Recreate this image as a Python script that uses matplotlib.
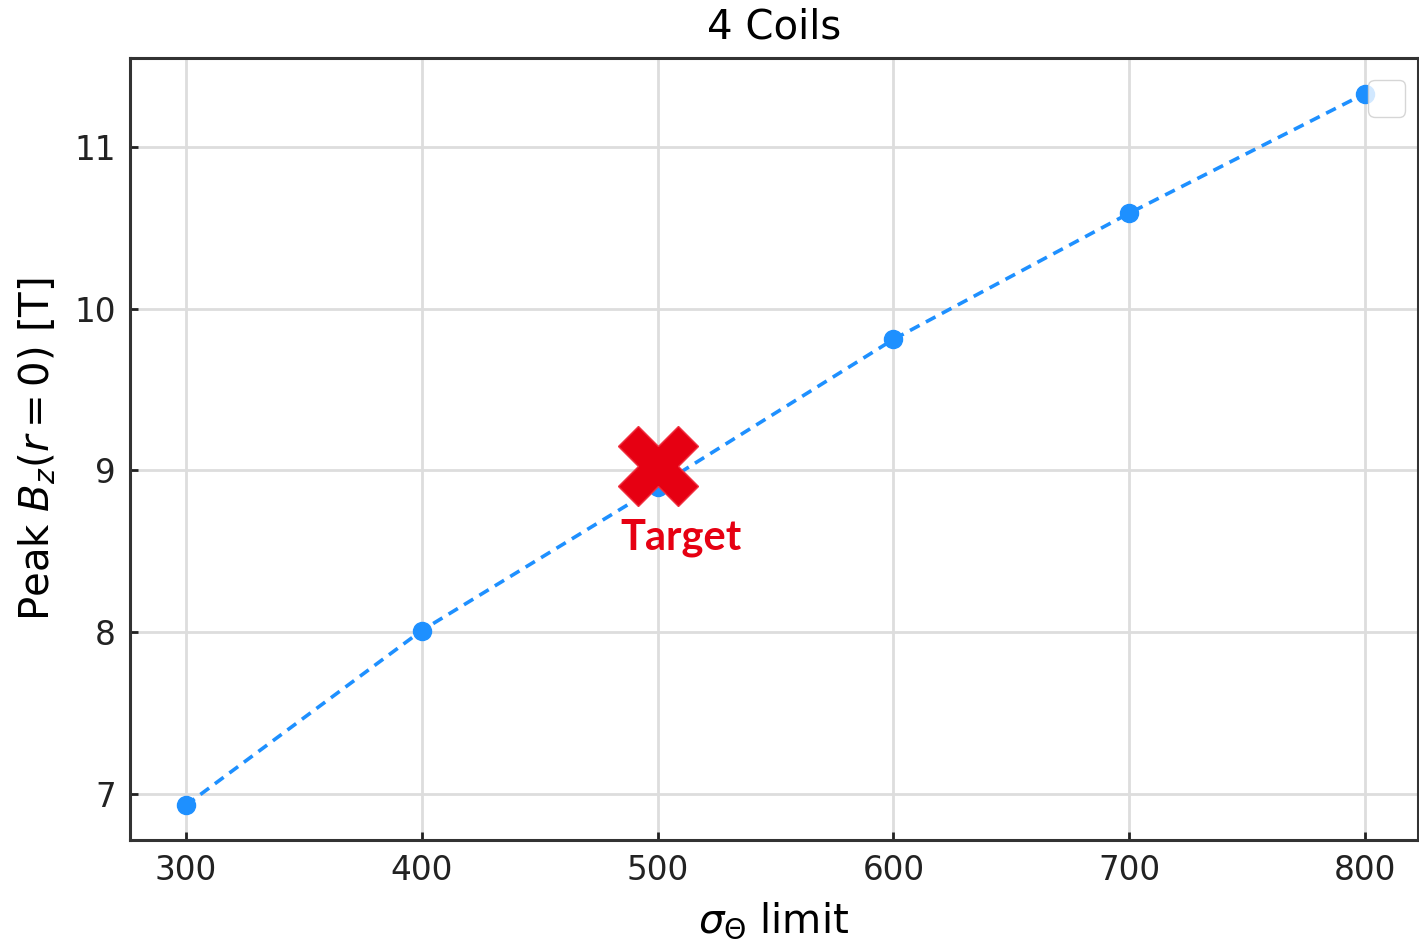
import matplotlib
matplotlib.use("Agg")
import matplotlib.pyplot as plt

# Peak field vs. hoop-stress limit for the 4-coil configuration
sigma_limit = [300, 400, 500, 600, 700, 800]
peak_bz = [6.93, 8.01, 8.90, 9.81, 10.59, 11.33]

target_sigma = 500
target_bz = 9.03

xticks = [300, 400, 500, 600, 700, 800]
yticks = [7, 8, 9, 10, 11]

fig = plt.figure(figsize=(14.19, 9.41), dpi=100)
ax = fig.add_axes([0.0916, 0.1073, 0.9077, 0.8311])

ax.plot(sigma_limit, peak_bz, linestyle="--", color="#1E90FF", linewidth=2.6,
        marker="o", markersize=13, dashes=(3, 2))

ax.plot([target_sigma], [target_bz], marker="X", markersize=58, color="#E60012",
        markeredgecolor="#F03040", markeredgewidth=1.0, linestyle="none", zorder=5)
ax.text(target_sigma + 10, target_bz - 0.33, "Target", color="#E60012",
        fontsize=30, fontweight="bold", family="Lato", ha="center", va="top", zorder=6)

ax.set_xlim(276.3, 822.5)
ax.set_ylim(6.715, 11.55)
ax.set_xticks(xticks)
ax.set_yticks(yticks)
ax.grid(True, color="#dddddd", linewidth=2)
ax.set_axisbelow(True)

ax.tick_params(direction="in", length=6, width=2, labelsize=23.5, colors="#222222",
               pad=10)
for s in ax.spines.values():
    s.set_linewidth(2.2)
    s.set_color("#333333")

ax.set_title("4 Coils", fontsize=29, pad=14)
ax.set_xlabel(r"$\sigma_\Theta$ limit", fontsize=29, labelpad=10)
ax.set_ylabel(r"Peak $B_z(r=0)$ [T]", fontsize=29, labelpad=12)

ax.legend(handles=[], loc="upper right", bbox_to_anchor=(0.99, 0.972),
          borderaxespad=0, fontsize=22, borderpad=0.6)

fig.savefig("out.png", dpi=100)
